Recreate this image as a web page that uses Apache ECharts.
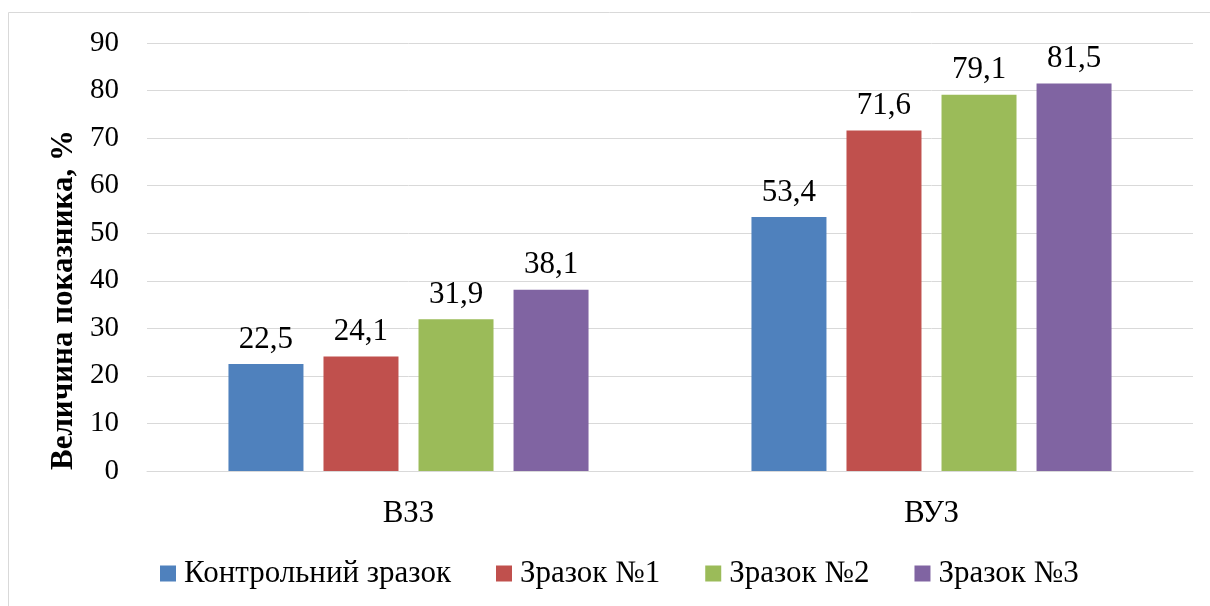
<!DOCTYPE html>
<html><head><meta charset="utf-8">
<script src="https://cdn.jsdelivr.net/npm/echarts@6/dist/echarts.min.js"></script>
<style>html,body{margin:0;padding:0;background:#fff}#c{width:1210px;height:606px}</style>
</head><body><div id="c"></div>
<script>
const categories = ['ВЗЗ', 'ВУЗ'];
const seriesNames = ['Контрольний зразок', 'Зразок №1', 'Зразок №2', 'Зразок №3'];
const control = [22.5, 53.4];
const sample1 = [24.1, 71.6];
const sample2 = [31.9, 79.1];
const sample3 = [38.1, 81.5];
const colors = ['#4F81BD', '#C0504D', '#9BBB59', '#8064A2'];
const values = [control, sample1, sample2, sample3];
const font = "'Times New Roman', 'Liberation Serif', serif";

const chart = echarts.init(document.getElementById('c'));
chart.setOption({
  animation: false,
  textStyle: { fontFamily: font },
  graphic: [{ type: 'rect', shape: { x: 8.5, y: 12.5, width: 1230, height: 620 }, style: { fill: 'none', stroke: '#d9d9d9', lineWidth: 1 } }],
  grid: { left: 147, right: 17, top: 43, bottom: 135 },
  legend: {
    bottom: 12, left: 155, itemWidth: 16, itemHeight: 16, itemGap: 45, icon: 'rect',
    textStyle: { fontFamily: font, fontSize: 31, color: '#000', padding: [0, 0, 0, 3] },
    data: seriesNames
  },
  xAxis: {
    type: 'category', data: categories,
    axisTick: { show: false },
    axisLine: { lineStyle: { color: '#d9d9d9', width: 1 } },
    axisLabel: { fontFamily: font, fontSize: 31, color: '#000', margin: 27 }
  },
  yAxis: {
    type: 'value', min: 0, max: 90, interval: 10,
    name: 'Величина показника, %', nameLocation: 'middle', nameGap: 59,
    nameTextStyle: { fontFamily: font, fontSize: 31, fontWeight: 'bold', color: '#000', padding: [0, 86, 0, 0] },
    axisLabel: { fontFamily: font, fontSize: 29, color: '#000', margin: 28 },
    splitLine: { lineStyle: { color: '#d9d9d9', width: 1 } },
    axisLine: { show: false }, axisTick: { show: false }
  },
  series: seriesNames.map((n, i) => ({
    name: n, type: 'bar', data: values[i], barWidth: 75, barGap: '26.7%',
    itemStyle: { color: colors[i] },
    label: { show: true, position: 'top', distance: 9, fontFamily: font, fontSize: 31, color: '#000',
      formatter: p => String(p.value).replace('.', ',') }
  }))
});
</script></body></html>
